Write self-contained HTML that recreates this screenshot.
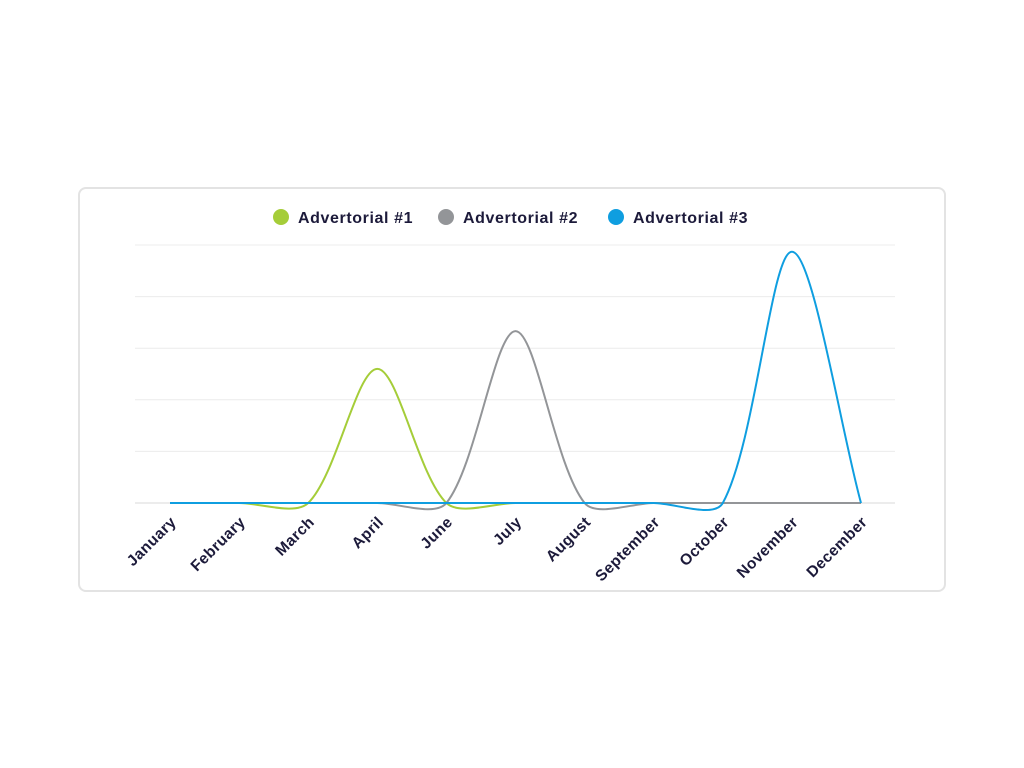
<!DOCTYPE html>
<html><head><meta charset="utf-8"><style>
body{margin:0;width:1024px;height:768px;background:#fff;font-family:"Liberation Sans",sans-serif;overflow:hidden}
#card{position:absolute;left:78px;top:187px;width:868px;height:405px;border:2px solid #e3e3e3;border-radius:8px;box-sizing:border-box}
svg{position:absolute;left:0;top:0}
</style></head><body>
<div id="card"></div>
<svg id="chart" width="1024" height="768"></svg>
<script>
const categories=["January","February","March","April","June","July","August","September","October","November","December"];
const seriesNames=["Advertorial #1","Advertorial #2","Advertorial #3"];
const adv1=[0,0,0,2.6,0,0,0,0,0,0,0];
const adv2=[0,0,0,0,0,3.33,0,0,0,0,0];
const adv3=[0,0,0,0,0,0,0,0,0,4.87,0];
const yMax=5, yTicks=[0,1,2,3,4,5];
const colors=["#a5cd39","#939598","#0f9ee0"];
const NS="http://www.w3.org/2000/svg";
const svg=document.getElementById('chart');
const x0=170,x1=861,yb=503,yt=245,gl=135,gr=895;
const xs=i=>x0+(x1-x0)*i/(categories.length-1);
const ys=v=>yb-(yb-yt)*v/yMax;
function mk(t,a){const e=document.createElementNS(NS,t);for(const k in a)e.setAttribute(k,a[k]);svg.appendChild(e);return e;}
yTicks.forEach(v=>{const l=mk('line',{x1:gl,x2:gr,y1:ys(v),y2:ys(v),stroke:v===0?'#d8d8d8':'#ececec','stroke-width':1});

});
categories.forEach((c,i)=>{const ax=xs(i)+7,ay=523;const t=mk('text',{x:ax,y:ay,'text-anchor':'end',transform:`rotate(-45 ${ax} ${ay})`,'font-size':15.5,'font-weight':'bold','letter-spacing':0.4,fill:'#1c1a3a'});
t.textContent=c;

});
function path(vals){const p=vals.map((v,i)=>[xs(i),ys(v)]);const T=0.3;let d=`M${p[0][0]},${p[0][1]}`;
const cp=p.map((c,i)=>{const pr=p[Math.max(i-1,0)],nx=p[Math.min(i+1,p.length-1)];
const d01=Math.hypot(c[0]-pr[0],c[1]-pr[1]),d12=Math.hypot(nx[0]-c[0],nx[1]-c[1]);
let fa=d01/(d01+d12)||0,fb=d12/(d01+d12)||0;fa*=T;fb*=T;
return {px:c[0]-fa*(nx[0]-pr[0]),py:c[1]-fa*(nx[1]-pr[1]),nx:c[0]+fb*(nx[0]-pr[0]),ny:c[1]+fb*(nx[1]-pr[1])};});
for(let i=1;i<p.length;i++)d+=` C${cp[i-1].nx},${cp[i-1].ny} ${cp[i].px},${cp[i].py} ${p[i][0]},${p[i][1]}`;return d;}
[adv1,adv2,adv3].forEach((s,k)=>{const e=mk('path',{d:path(s),fill:'none',stroke:colors[k],'stroke-width':2});

});
const lx=[281,446,616];
seriesNames.forEach((n,k)=>{const c=mk('circle',{cx:lx[k],cy:217,r:8,fill:colors[k]});


const t=mk('text',{x:lx[k]+17,y:223,'font-size':16,'font-weight':'bold','letter-spacing':0.6,fill:'#1c1a3a'});t.textContent=n;

});
</script>
</body></html>
